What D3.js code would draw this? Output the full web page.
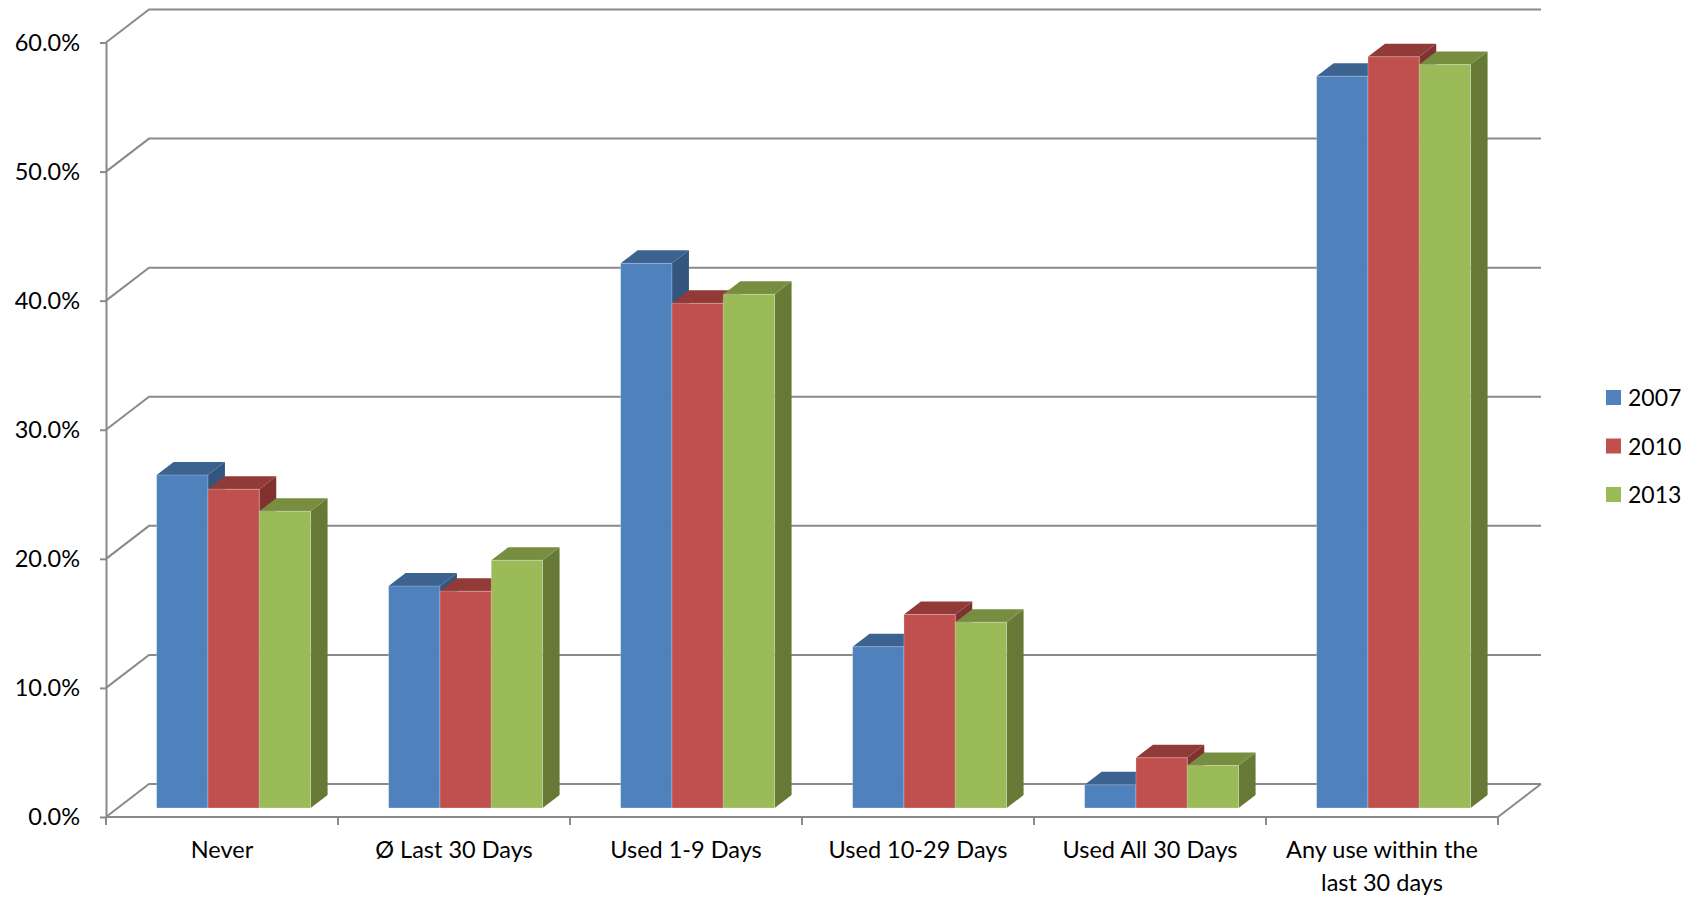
<!DOCTYPE html>
<html>
<head>
<meta charset="utf-8">
<script src="https://cdn.jsdelivr.net/npm/d3@7"></script>
<style>
  html, body { margin: 0; padding: 0; background: #fff; }
  svg { display: block; font-family: Lato, "Open Sans", sans-serif; }
</style>
</head>
<body>
<svg id="chart" width="1702" height="899"></svg>
<script>
// Survey responses by year (percent of respondents)
const categories = ["Never", "Ø Last 30 Days", "Used 1-9 Days", "Used 10-29 Days", "Used All 30 Days", "Any use within the last 30 days"];
const years = ["2007", "2010", "2013"];
const values2007 = [25.8, 17.2, 42.2, 12.5, 1.8, 56.7];
const values2010 = [24.7, 16.8, 39.1, 15.0, 3.9, 58.2];
const values2013 = [23.0, 19.2, 39.8, 14.4, 3.3, 57.6];
const yTicks = [0, 10, 20, 30, 40, 50, 60];

const seriesValues = [values2007, values2010, values2013];
const faceColors = [
  { front: "#4f81bd", top: "#3c628f", side: "#33557e" },
  { front: "#c0504d", top: "#923a38", side: "#7f3230" },
  { front: "#9bbb59", top: "#778e41", side: "#667a36" }
];

const svg = d3.select("#chart");
const fontSize = 23.5;

// plot frame (front plane) and oblique depth offset
const x0 = 106, x1 = 1498;
const yBottom = 817, yTop = 42.5;
const DX = 43, DY = 33;
const barD0 = 0.27, barD1 = 0.665;

const x = d3.scaleBand().domain(categories).range([x0, x1]).paddingInner(0).paddingOuter(0);
const xs = d3.scaleBand().domain(years).range([0, x.bandwidth()]).paddingInner(0).paddingOuter(0.76);
const y = d3.scaleLinear().domain([0, 60]).range([yBottom, yTop]);

const P = (px, v, d) => [px + DX * d, y(v) - DY * d];
const gridColor = "#8a8a8a";

// walls: left-wall diagonals and back-wall gridlines
const walls = svg.append("g").attr("fill", "none").attr("stroke", gridColor).attr("stroke-width", 2);
yTicks.forEach(t => {
  walls.append("path").attr("d", d3.line()([P(x0, t, 0), P(x0, t, 1), P(x1, t, 1)]));
});
// floor right edge
walls.append("path").attr("d", d3.line()([P(x1, 0, 0), P(x1, 0, 1)]));

// bars (oblique 3D): side, top, then front face, drawn left to right
const barsG = svg.append("g");
categories.forEach((cat, ci) => {
  years.forEach((yr, si) => {
    const v = seriesValues[si][ci];
    const c = faceColors[si];
    const left = x(cat) + xs(yr);
    const right = left + xs.bandwidth();
    const g = barsG.append("g");
    // side face
    g.append("path")
      .attr("d", d3.line()([P(right, 0, barD0), P(right, 0, barD1), P(right, v, barD1), P(right, v, barD0)]) + "Z")
      .attr("fill", c.side);
    // top face
    g.append("path")
      .attr("d", d3.line()([P(left, v, barD0), P(left, v, barD1), P(right, v, barD1), P(right, v, barD0)]) + "Z")
      .attr("fill", c.top);
    // front face
    g.append("path")
      .attr("d", d3.line()([P(left, 0, barD0), P(left, v, barD0), P(right, v, barD0), P(right, 0, barD0)]) + "Z")
      .attr("fill", c.front)
      .attr("stroke", "rgba(255,255,255,0.25)")
      .attr("stroke-width", 1);
  });
});

// value axis
const yAxis = svg.append("g")
  .attr("transform", `translate(${x0},0)`)
  .call(d3.axisLeft(y).tickValues(yTicks).tickFormat(d => d.toFixed(1) + "%").tickSize(6).tickPadding(20).tickSizeOuter(0));
yAxis.select(".domain").attr("stroke", gridColor).attr("stroke-width", 2);
yAxis.selectAll(".tick line").attr("stroke", gridColor).attr("stroke-width", 2);
yAxis.selectAll(".tick text").attr("font-size", fontSize).attr("fill", "#000").attr("font-family", "Lato, sans-serif");

// category axis: line, boundary ticks, wrapped labels
const xAxis = svg.append("g");
xAxis.append("line")
  .attr("x1", x0).attr("x2", x1).attr("y1", yBottom).attr("y2", yBottom)
  .attr("stroke", gridColor).attr("stroke-width", 2);
const boundaries = categories.map(c => x(c)).concat([x1]);
xAxis.selectAll("line.tick").data(boundaries).join("line")
  .attr("class", "tick")
  .attr("x1", d => d).attr("x2", d => d)
  .attr("y1", yBottom).attr("y2", yBottom + 8)
  .attr("stroke", gridColor).attr("stroke-width", 2);

const labels = xAxis.selectAll("text.cat").data(categories).join("text")
  .attr("class", "cat")
  .attr("x", d => x(d) + x.bandwidth() / 2)
  .attr("y", 858)
  .attr("text-anchor", "middle")
  .attr("font-size", fontSize)
  .attr("fill", "#000");

const maxW = x.bandwidth() - 12;
labels.each(function(d) {
  const t = d3.select(this);
  const words = d.split(" ");
  let line = [];
  let tspan = t.append("tspan").attr("x", t.attr("x")).attr("dy", 0);
  words.forEach(w => {
    line.push(w);
    tspan.text(line.join(" "));
    if (tspan.node().getComputedTextLength() > maxW && line.length > 1) {
      line.pop();
      tspan.text(line.join(" "));
      line = [w];
      tspan = t.append("tspan").attr("x", t.attr("x")).attr("dy", 33).text(w);
    }
  });
});

// legend
const legend = svg.append("g").attr("transform", "translate(1606,390)");
years.forEach((yr, i) => {
  const g = legend.append("g").attr("transform", `translate(0,${i * 48.5})`);
  g.append("rect").attr("width", 15).attr("height", 15).attr("fill", faceColors[i].front);
  g.append("text").attr("x", 22).attr("y", 16).attr("font-size", 23).attr("fill", "#000").text(yr);
});
</script>
</body>
</html>
